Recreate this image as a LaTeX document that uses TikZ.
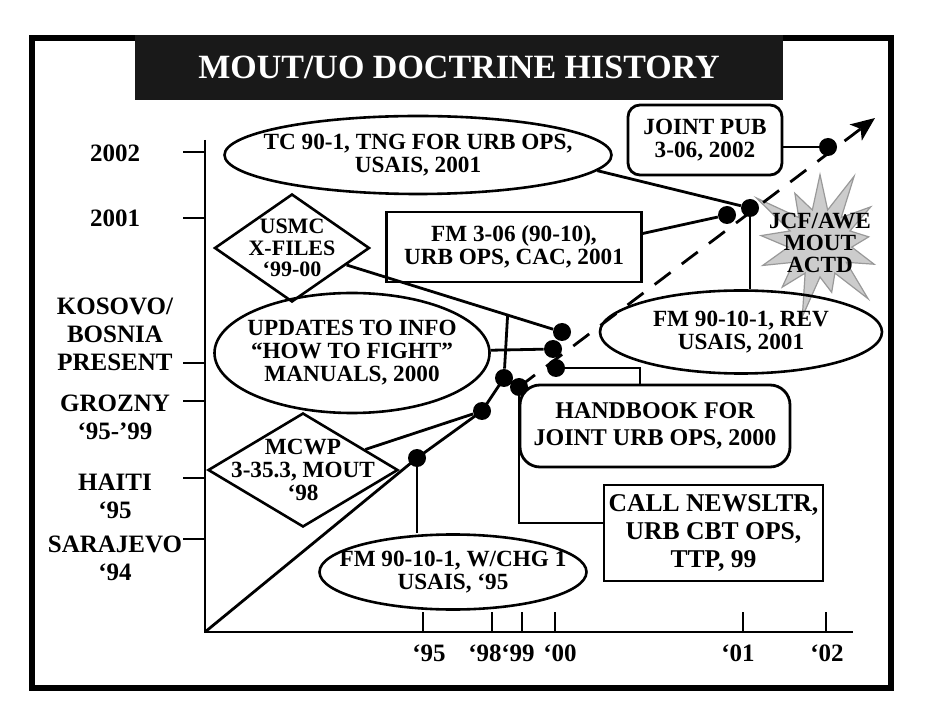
\documentclass[tikz,border=0pt]{standalone}
\usepackage{fontspec}
\setmainfont{Liberation Serif}
\usetikzlibrary{arrows.meta,shapes.geometric,shapes.symbols}

\begin{document}
\begin{tikzpicture}[
  x=0.5pt,y=-0.5pt,
  every node/.style={font=\fontsize{11.6}{11.5}\selectfont\bfseries},
  titlebar/.style={fill=black!90,text=white,minimum width=324pt,minimum height=32.5pt,inner sep=0pt,font=\fontsize{17}{19}\selectfont\bfseries},
  oval/.style={ellipse,draw,line width=1.3pt,inner sep=-40pt,align=center},
  box/.style={rectangle,draw,line width=1.4pt,inner sep=0pt,align=center},
  roundbox/.style={box,rounded corners=6pt},
  bigroundbox/.style={box,rounded corners=10pt,font=\fontsize{12}{13.5}\selectfont\bfseries},
  dmd/.style={diamond,draw,line width=1.3pt,inner sep=-40pt,align=center,font=\fontsize{11}{10.8}\selectfont\bfseries},
  burst/.style={starburst,starburst points=13,starburst point height=24pt,fill=black!20,draw=black!40,line width=0.6pt,inner sep=-30pt,align=center,font=\fontsize{11.6}{11}\selectfont\bfseries},
  dot/.style={circle,fill,inner sep=0pt,minimum size=9pt},
  conn/.style={line width=1.4pt},
  axis/.style={line width=1.4pt},
  ylab/.style={align=center,font=\fontsize{12.5}{14}\selectfont\bfseries},
  xlab/.style={font=\fontsize{12.5}{14}\selectfont\bfseries}
]
\useasboundingbox (0,0) rectangle (930,726);
\draw[line width=3pt] (32,38) rectangle (891,688);
\node[titlebar] (title) at (459,67.5) {MOUT/UO DOCTRINE HISTORY};

\draw[axis] (205,140) -- (205,632) -- (853,632);
\foreach \yy in {152,218,363,401,478,539} \draw[axis] (183,\yy) -- (205,\yy);
\foreach \xx in {423,492,522,555,743,826} \draw[axis] (\xx,612) -- (\xx,632);

\node[ylab] (y2002) at (115,153) {2002};
\node[ylab] (y2001) at (115,218) {2001};
\node[ylab] (ykosovo) at (115,334) {KOSOVO/\\BOSNIA\\PRESENT};
\node[ylab] (ygrozny) at (115,417) {GROZNY\\`95-'99};
\node[ylab] (yhaiti) at (115,496) {HAITI\\`95};
\node[ylab] (ysarajevo) at (115,558) {SARAJEVO\\`94};
\node[xlab] (x95) at (429,653) {`95};
\node[xlab] (x98) at (485,653) {`98};
\node[xlab] (x99) at (518,653) {`99};
\node[xlab] (x00) at (560,653) {`00};
\node[xlab] (x01) at (738,653) {`01};
\node[xlab] (x02) at (827,653) {`02};

\node[burst,minimum width=80pt,minimum height=82pt] (jcf) at (820,243) {JCF/AWE\\MOUT\\ACTD};

\node[oval,minimum width=193.5pt,minimum height=39pt] (tc) at (418,155) {TC 90-1, TNG FOR URB OPS,\\USAIS, 2001};
\node[roundbox,minimum width=77pt,minimum height=35pt] (joint) at (705,140) {JOINT PUB\\3-06, 2002};
\node[box,minimum width=127.5pt,minimum height=35pt] (fm306) at (514,247) {FM 3-06 (90-10),\\URB OPS, CAC, 2001};
\node[dmd,minimum width=77.5pt,minimum height=54pt] (xfiles) at (292,248) {USMC\\X-FILES\\`99-00};
\node[oval,minimum width=137.5pt,minimum height=60pt] (upd) at (352,353) {UPDATES TO INFO\\``HOW TO FIGHT''\\MANUALS, 2000};
\node[oval,minimum width=141pt,minimum height=41.5pt] (rev) at (741,332) {FM 90-10-1, REV\\USAIS, 2001};
\node[bigroundbox,minimum width=135pt,minimum height=41pt] (hbk) at (655,426) {HANDBOOK FOR\\JOINT URB OPS, 2000};
\node[dmd,minimum width=95pt,minimum height=57pt,font=\fontsize{11.6}{11.5}\selectfont\bfseries] (mcwp) at (303,470) {MCWP\\3-35.3, MOUT\\`98};
\node[box,minimum width=109.5pt,minimum height=48pt,font=\fontsize{12.8}{14}\selectfont\bfseries] (call) at (713.5,533) {CALL NEWSLTR,\\URB CBT OPS,\\TTP, 99};
\node[oval,minimum width=133.5pt,minimum height=37.5pt] (chg) at (453,572) {FM 90-10-1, W/CHG 1\\USAIS, `95};

\node[dot] (d95) at (417,458) {};
\node[dot] (d98) at (482,411) {};
\node[dot] (d99a) at (504,378) {};
\node[dot] (d99b) at (519,387) {};
\node[dot] (d00a) at (562,332) {};
\node[dot] (d00b) at (553,349) {};
\node[dot] (d00c) at (556,368) {};
\node[dot] (d01a) at (727,215) {};
\node[dot] (d01b) at (750,208) {};
\node[dot] (d02) at (828,147) {};

\coordinate (orig) at (205,632);
\coordinate (tip) at (875,118);
\draw[conn] (orig) -- (d95.center) -- (d98.center) -- (d99a.center) -- (d99b.center);
\draw[conn,dash pattern=on 10pt off 7pt,-{Stealth[length=12pt,width=10pt,inset=3pt]}] (d99b.center) -- (tip);

\draw[conn] (tc.-5) -- (d01b);
\draw[conn] (d02) -- (d02 -| joint.east);
\draw[conn] (fm306.6) -- (d01a);
\draw[conn] (d01b) -- (d01b |- rev.north);
\draw[conn] (xfiles) -- coordinate[pos=0.78] (xbr) (d00a);
\draw[conn] (xbr) -- (d99a);
\draw[conn] (upd) -- (d00b);
\draw[conn] (d00c) -| ([xshift=-7.5pt]hbk.north);
\draw[conn] (d99b) |- ([yshift=5pt]call.west);
\draw[conn] (mcwp) -- (d98);
\draw[conn] (d95) -- (d95 |- chg.north);
\end{tikzpicture}
\end{document}
